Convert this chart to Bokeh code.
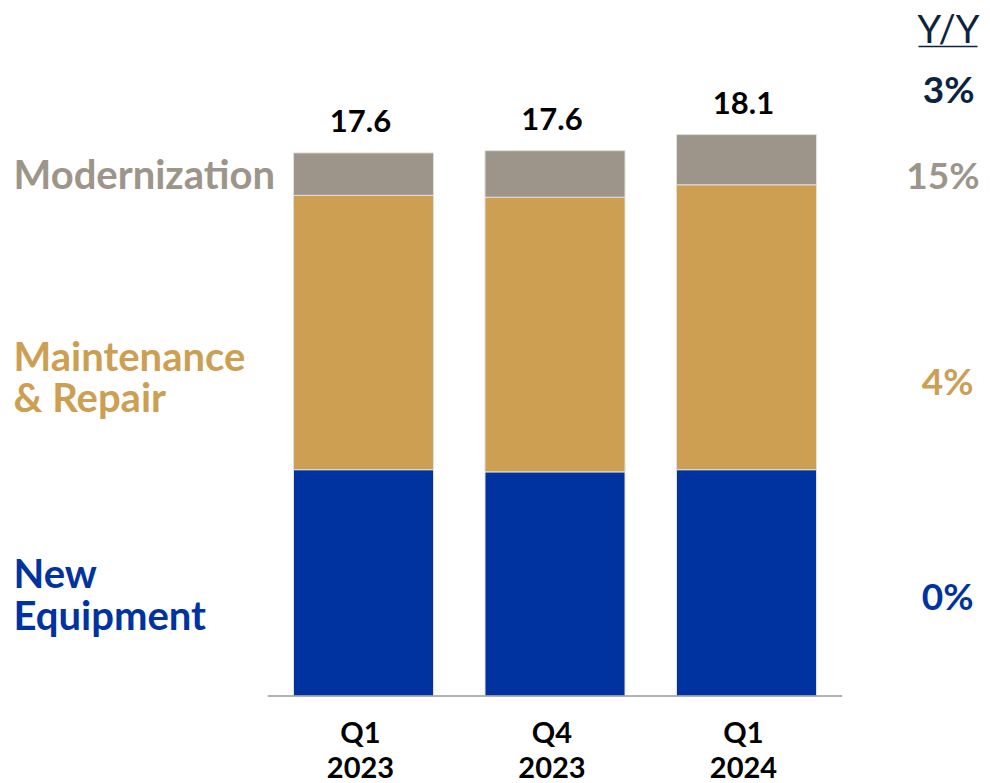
import numpy as np
from bokeh.plotting import figure
from bokeh.models import ColumnDataSource, Label, Range1d
from bokeh.core.properties import value
from bokeh.embed import file_html
from bokeh.resources import INLINE

# ---------------- data ----------------
quarters = ["Q1", "Q4", "Q1"]
years = ["2023", "2023", "2024"]
new_equipment = [7.30, 7.23, 7.30]
maintenance_repair = [8.85, 8.86, 9.19]
modernization = [1.37, 1.50, 1.62]
totals = ["17.6", "17.6", "18.1"]
segment_names = ["Modernization", "Maintenance", "& Repair", "New", "Equipment"]
yy_header = "Y/Y"
yy_total = "3%"
yy_mod = "15%"
yy_mr = "4%"
yy_ne = "0%"

C_NE = "#0033A0"
C_MR = "#CC9F53"
C_MOD = "#9E958A"
C_NAVY = "#0C2340"
FONT = "Lato"

W, H = 990, 783
# mapping helpers (picture pixel coordinates -> data coordinates)
X0_IMG, DX = 363.0, 191.5
Y0_IMG, DY = 695.5, 31.0
BASE_K = 0.42  # empirical baseline correction (fraction of font size)


def px2x(px):
    return (px - X0_IMG) / DX


def px2y(py):
    return (Y0_IMG - py) / DY


def base_y(py, size):
    return px2y(py - BASE_K * size)


p = figure(width=W, height=H, output_backend="svg", toolbar_location=None,
           x_range=Range1d(px2x(0), px2x(W)),
           y_range=Range1d(px2y(H), px2y(0)),
           min_border=0, min_border_left=0, min_border_right=0,
           min_border_top=0, min_border_bottom=0)
p.axis.visible = False
p.grid.visible = False
p.outline_line_color = None
p.background_fill_color = "white"
p.border_fill_color = "white"

xs = np.arange(len(quarters), dtype=float)
src = ColumnDataSource(dict(x=xs, ne=new_equipment, mr=maintenance_repair, mod=modernization))
p.vbar_stack(["ne", "mr", "mod"], x="x", width=140 / DX, color=[C_NE, C_MR, C_MOD],
             line_color="#e2ded8", line_width=1, source=src)

# baseline axis line
p.segment(x0=[-0.5], y0=[0], x1=[2.5], y1=[0], line_color="#9a9a9a", line_width=1.6)

# totals above bars
tops = np.array(new_equipment) + np.array(maintenance_repair) + np.array(modernization)
TS = 31
p.text(x=xs - 3 / DX, y=tops + (19 + BASE_K * TS) / DY, text=totals, text_font=value(FONT),
       text_font_style="bold", text_font_size=f"{TS}px", text_color="black",
       text_align="center", text_baseline="alphabetic")

# x category labels
XS_ = 29
p.text(x=xs - 3 / DX, y=[base_y(743, XS_)] * 3, text=quarters, text_font=value(FONT),
       text_font_style="bold", text_font_size=f"{XS_}px", text_color="black",
       text_align="center", text_baseline="alphabetic")
p.text(x=xs - 3 / DX, y=[base_y(779, XS_)] * 3, text=years, text_font=value(FONT),
       text_font_style="bold", text_font_size=f"{XS_}px", text_color="black",
       text_align="center", text_baseline="alphabetic")


def lab(text, px, py, color, size, align="left", style="bold"):
    p.add_layout(Label(x=px2x(px), y=base_y(py, size), text=text, text_font=FONT,
                       text_font_size=f"{size}px", text_font_style=style, text_color=color,
                       text_align=align, text_baseline="alphabetic"))


# left legend labels
LS = 40
lab(segment_names[0], 13, 190, C_MOD, LS)
lab(segment_names[1], 13, 372, C_MR, LS)
lab(segment_names[2], 13, 413, C_MR, LS)
lab(segment_names[3], 13, 589, C_NE, LS)
lab(segment_names[4], 13, 631, C_NE, LS)

# right Y/Y column
lab(yy_header, 948, 43, C_NAVY, 38, align="center", style="normal")
p.segment(x0=[px2x(918)], y0=[px2y(46)], x1=[px2x(977)], y1=[px2y(46)],
          line_color=C_NAVY, line_width=1.6)
lab(yy_total, 974, 104, C_NAVY, 37, align="right")
lab(yy_mod, 979, 190, C_MOD, 37, align="right")
lab(yy_mr, 973, 396, C_MR, 37, align="right")
lab(yy_ne, 973, 611, C_NE, 37, align="right")

open("out.html", "w").write(file_html(p, INLINE))
